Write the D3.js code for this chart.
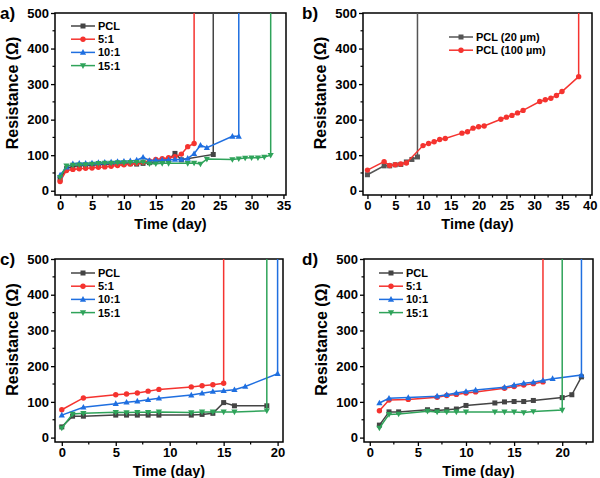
<!DOCTYPE html>
<html><head><meta charset="utf-8">
<script src="https://cdn.jsdelivr.net/npm/d3@7/dist/d3.min.js"></script>
<style>body{margin:0;background:#fff}svg{display:block}text{font-family:"Liberation Sans",Arial,sans-serif;font-weight:bold}</style>
</head><body>
<svg id="c" width="600" height="478"></svg>
<script>
// ---- Data ----
const seriesNames = ["PCL","5:1","10:1","15:1"];
const seriesNamesB = ["PCL (20 \u00b5m)","PCL (100 \u00b5m)"];
const yTicks = [0,100,200,300,400,500];

// Panel a
const a_PCL_days = [0,1,2,3,4,5,6,7,8,9,10,11,12,13,14,15,16,17,18,19,24];
const a_PCL_res  = [33,62,68,70,71,72,73,74,75,75,76,76,75,77,79,82,85,88,105,87,102];
const a_51_days  = [0,1,2,3,4,5,6,7,8,9,10,11,12,13,14,15,16,17,18,19,20,21];
const a_51_res   = [26,57,60,62,63,64,66,67,69,71,73,75,77,80,84,88,90,93,96,103,124,133];
const a_101_days = [0,1,2,3,4,5,6,7,8,9,10,11,12,13,14,15,16,17,18,19,20,21,22,23,27,28];
const a_101_res  = [44,66,76,77,77,78,79,80,81,82,83,84,86,94,85,86,86,87,88,88,91,104,128,121,153,153];
const a_151_days = [0,1,2,3,4,5,6,7,8,9,10,11,12,13,14,15,16,17,20,21,22,23,27,28,29,30,31,32,33];
const a_151_res  = [38,70,72,73,74,75,77,78,78,79,79,80,80,81,76,76,77,77,77,78,75,89,88,90,92,93,93,95,100];
const a_fail = [24,21,28,33];
const a_xTicks = [0,5,10,15,20,25,30,35];

// Panel b
const b_20_days  = [0,3,4,5,6,7,8,9];
const b_20_res   = [45,70,70,73,74,81,88,95];
const b_100_days = [0,3,4,5,6,7,10,11,12,13,14,17,18,19,20,21,24,25,26,27,28,31,32,33,34,35,38];
const b_100_res  = [58,82,71,73,75,78,127,133,138,144,147,162,166,176,180,182,201,207,212,219,226,251,256,260,268,279,321];
const b_fail = [9,38];
const b_xTicks = [0,5,10,15,20,25,30,35,40];

// Panel c
const c_PCL_days = [0,1,2,5,6,7,8,9,12,13,14,15,16,19];
const c_PCL_res  = [30,60,60,63,63,63,63,63,63,65,68,98,89,89];
const c_51_days  = [0,2,5,6,7,8,9,12,13,14,15];
const c_51_res   = [78,111,120,122,125,130,135,142,145,148,152];
const c_101_days = [0,2,5,6,7,8,9,12,13,14,15,16,17,20];
const c_101_res  = [63,85,95,99,102,106,110,119,124,129,131,134,143,179];
const c_151_days = [0,1,2,5,6,7,8,9,12,13,14,15,16,19];
const c_151_res  = [27,66,68,71,70,71,71,72,70,72,72,72,72,75];
const c_fail = [null,15,20,19];
const c_xTicks = [0,5,10,15,20];

// Panel d
const d_PCL_days = [1,2,3,6,7,8,9,10,13,14,15,16,17,20,21,22];
const d_PCL_res  = [35,72,72,78,76,78,80,90,97,100,101,101,104,112,120,170];
const d_51_days  = [1,2,4,7,8,9,10,11,14,15,16,17,18];
const d_51_res   = [75,105,107,113,118,121,125,128,138,143,147,151,156];
const d_101_days = [1,2,4,7,8,9,10,11,14,15,16,17,18,19,22];
const d_101_res  = [97,110,112,116,120,125,129,133,141,147,152,155,160,165,175];
const d_151_days = [1,2,3,6,7,8,9,10,13,14,15,16,17,20];
const d_151_res  = [27,65,66,74,72,72,72,72,72,72,72,70,73,77];
const d_fail = [null,18,22,20];
const d_xTicks = [0,5,10,15,20];

// ---- Styles ----
const colors4 = ["#444444","#f5332f","#1f6fe0","#2fa35a"];
const symbols4 = ["square","circle","tri","itri"];
const colorsB = ["#555555","#f5332f"];
const symbolsB = ["square","circle"];

const svg = d3.select("#c");

function marker(g, type, x, y, color){
  if(type==="square") g.append("rect").attr("x",x-2.5).attr("y",y-2.5).attr("width",5).attr("height",5).attr("fill",color);
  else if(type==="circle") g.append("circle").attr("cx",x).attr("cy",y).attr("r",2.7).attr("fill",color);
  else if(type==="tri") g.append("path").attr("d",`M${x},${y-3.3}L${x+3.1},${y+2.3}L${x-3.1},${y+2.3}Z`).attr("fill",color);
  else g.append("path").attr("d",`M${x},${y+3.3}L${x+3.1},${y-2.3}L${x-3.1},${y-2.3}Z`).attr("fill",color);
}

function panel(cfg){
  const x = d3.scaleLinear().domain(cfg.xd).range([cfg.l,cfg.r]);
  const y = d3.scaleLinear().domain([cfg.y0,500]).range([cfg.b,cfg.t]);
  const g = svg.append("g");
  const clipId = "clip"+cfg.label[0];
  svg.append("clipPath").attr("id",clipId).append("rect")
    .attr("x",cfg.l).attr("y",cfg.t).attr("width",cfg.r-cfg.l).attr("height",cfg.b-cfg.t);
  const xAx = d3.axisBottom(x).tickValues(cfg.xTicks).tickSize(4).tickSizeOuter(0).tickPadding(2);
  const xg = g.append("g").attr("transform",`translate(0,${cfg.b})`).call(xAx);
  const yAx = d3.axisLeft(y).tickValues(yTicks).tickSize(4).tickSizeOuter(0).tickPadding(2);
  const yg = g.append("g").attr("transform",`translate(${cfg.l},0)`).call(yAx);
  const step = cfg.xTicks[1]-cfg.xTicks[0];
  const xMinor = cfg.xTicks.map(v=>v+step/2).filter(v=>v<cfg.xd[1]);
  xg.selectAll(".mn").data(xMinor).enter().append("line").attr("x1",d=>x(d)).attr("x2",d=>x(d)).attr("y1",0).attr("y2",2.5).attr("stroke","#000").attr("stroke-width",1.2);
  const yMinor = [50,150,250,350,450];
  yg.selectAll(".mn").data(yMinor).enter().append("line").attr("y1",d=>y(d)).attr("y2",d=>y(d)).attr("x1",0).attr("x2",-2.5).attr("stroke","#000").attr("stroke-width",1.2);
  [xg,yg].forEach(a=>{
    a.select(".domain").remove();
    a.selectAll(".tick line").attr("stroke","#000").attr("stroke-width",1.3);
    a.selectAll(".tick text").attr("fill","#000").style("font-size","13px").style("font-weight","bold").style("font-family","Liberation Sans, Arial");
  });
  g.append("rect").attr("x",cfg.l).attr("y",cfg.t).attr("width",cfg.r-cfg.l).attr("height",cfg.b-cfg.t)
    .attr("fill","none").attr("stroke","#000").attr("stroke-width",1.5);
  g.append("text").attr("x",(cfg.l+cfg.r)/2).attr("y",cfg.b+34).attr("text-anchor","middle").style("font-size","14.5px").text("Time (day)");
  g.append("text").attr("transform",`translate(${cfg.l-37},${(cfg.t+cfg.b)/2-11}) rotate(-90)`).attr("text-anchor","middle").style("font-size","16px").text("Resistance (\u03a9)");
  g.append("text").attr("x",cfg.lx).attr("y",cfg.t+6).style("font-size","17px").text(cfg.label);
  const line = d3.line().x(d=>x(d[0])).y(d=>y(d[1]));
  const dg = g.append("g").attr("clip-path",`url(#${clipId})`);
  cfg.series.forEach((s,i)=>{
    const pts = s.days.map((d,k)=>[d,s.res[k]]);
    const path = pts.slice();
    if(s.fail!=null) path.push([s.fail,500]);
    dg.append("path").attr("d",line(path)).attr("fill","none").attr("stroke",s.color).attr("stroke-width",1.5);
    pts.forEach(p=>marker(dg,s.sym,x(p[0]),y(p[1]),s.color));
  });
  cfg.series.forEach((s,i)=>{
    const ly = cfg.legY + i*13.2;
    g.append("line").attr("x1",cfg.legX).attr("x2",cfg.legX+24).attr("y1",ly).attr("y2",ly).attr("stroke",s.color).attr("stroke-width",1.5);
    marker(g,s.sym,cfg.legX+12,ly,s.color);
    g.append("text").attr("x",cfg.legX+27).attr("y",ly+4).style("font-size","11px").text(s.name);
  });
}

function mk(names, daysArr, resArr, fails, cols, syms){
  return names.map((n,i)=>({name:n,days:daysArr[i],res:resArr[i],fail:fails[i],color:cols[i],sym:syms[i]}));
}

panel({label:"a)",lx:0,l:55,r:286,t:13,b:195,xd:[-0.8,35.4],y0:-12,xTicks:a_xTicks,legX:71,legY:26,
  series:mk(seriesNames,[a_PCL_days,a_51_days,a_101_days,a_151_days],[a_PCL_res,a_51_res,a_101_res,a_151_res],a_fail,colors4,symbols4)});
panel({label:"b)",lx:302,l:363,r:592,t:13,b:195,xd:[-0.8,40.4],y0:-12,xTicks:b_xTicks,legX:449,legY:37,
  series:mk(seriesNamesB,[b_20_days,b_100_days],[b_20_res,b_100_res],b_fail,colorsB,symbolsB)});
panel({label:"c)",lx:0,l:55,r:283,t:259,b:442,xd:[-0.63,20.5],y0:-12.3,xTicks:c_xTicks,legX:71,legY:273,
  series:mk(seriesNames,[c_PCL_days,c_51_days,c_101_days,c_151_days],[c_PCL_res,c_51_res,c_101_res,c_151_res],c_fail,colors4,symbols4)});
panel({label:"d)",lx:302,l:364,r:593,t:259,b:442,xd:[-0.6,23.2],y0:-12.3,xTicks:d_xTicks,legX:379,legY:273,
  series:mk(seriesNames,[d_PCL_days,d_51_days,d_101_days,d_151_days],[d_PCL_res,d_51_res,d_101_res,d_151_res],d_fail,colors4,symbols4)});
</script>
</body></html>
